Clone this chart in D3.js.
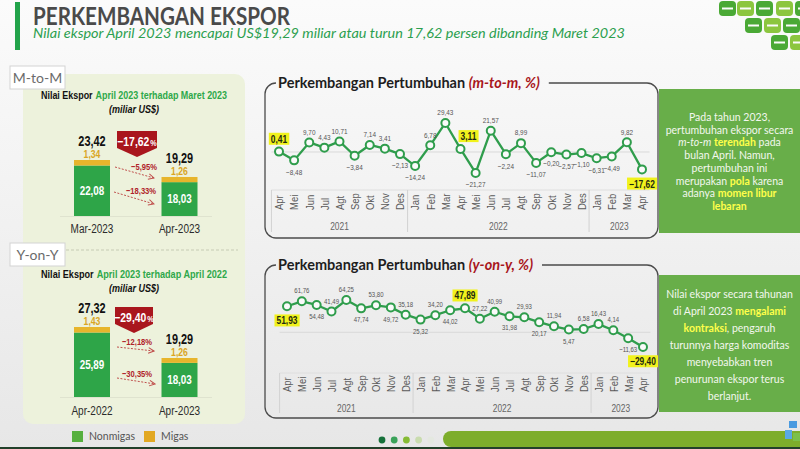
<!DOCTYPE html>
<html><head><meta charset="utf-8">
<script src="https://cdn.jsdelivr.net/npm/d3@7"></script>
<style>
html,body{margin:0;padding:0;width:800px;height:449px;overflow:hidden;background:#f0f0f0}
svg{display:block}
</style></head><body>
<svg id="c" width="800" height="449"></svg>
<script>
// ---------------- DATA ----------------
const months = ["Apr","Mei","Jun","Jul","Agt","Sep","Okt","Nov","Des","Jan","Feb","Mar","Apr","Mei","Jun","Jul","Agt","Sep","Okt","Nov","Des","Jan","Feb","Mar","Apr"];
const monthYears = ["2021","2021","2021","2021","2021","2021","2021","2021","2021","2022","2022","2022","2022","2022","2022","2022","2022","2022","2022","2022","2022","2023","2023","2023","2023"];
const years = ["2021","2022","2023"];
const mtmGrowth = [0.41,-8.48,9.70,4.43,10.71,-3.84,7.14,3.41,-2.13,-14.24,6.78,29.43,3.11,-21.27,21.57,-2.24,8.99,-11.07,-0.20,-2.57,-1.10,-6.31,-4.49,9.82,-17.62];
const yoyGrowth = [51.93,61.76,54.48,41.49,64.25,47.74,53.80,49.72,35.18,25.32,34.20,44.02,47.89,27.22,40.99,31.98,29.93,20.17,11.94,5.47,6.58,16.43,4.14,-11.63,-29.40];
const yoyLabelSide = ["below","above","below","above","above","below","above","below","above","below","above","below","above","above","above","below","above","below","above","below","above","above","above","below","below"];

const mtmPeriods = ["Mar-2023","Apr-2023"];
const mtmNonmigas = [22.08,18.03];
const mtmMigas = [1.34,1.26];
const mtmTotal = [23.42,19.29];
const mtmChanges = [-17.62,-5.95,-18.33]; // total, migas, nonmigas

const yoyPeriods = ["Apr-2022","Apr-2023"];
const yoyNonmigas = [25.89,18.03];
const yoyMigas = [1.43,1.26];
const yoyTotal = [27.32,19.29];
const yoyChanges = [-29.40,-12.18,-30.35];

const legendLabels = ["Nonmigas","Migas"];

// ---------------- STYLE ----------------
const SANS = '"Liberation Sans",Arial,sans-serif';
const LATO = 'Lato,"Open Sans",sans-serif';
const C_NON = "#2ea548", C_MIG = "#e7b52c", C_MIG_T = "#d9a524", C_RED = "#a9161d", C_LINE = "#2f9d4c";
const fmt = v => d3.format(".2f")(v).replace(".", ",");
function narrow(sel, f){
  sel.each(function(){
    const w = this.getComputedTextLength();
    d3.select(this).attr("textLength", w*f).attr("lengthAdjust","spacingAndGlyphs");
  });
  return sel;
}

const svg = d3.select("#c");
const defs = svg.append("defs");
const bg = defs.append("linearGradient").attr("id","bg").attr("x1",0).attr("y1",0).attr("x2",0).attr("y2",1);
bg.append("stop").attr("offset",0).attr("stop-color","#fbfbfb");
bg.append("stop").attr("offset",1).attr("stop-color","#e7e7e7");
svg.append("rect").attr("width",800).attr("height",449).attr("fill","url(#bg)");

// ---------------- HEADER ----------------
svg.append("rect").attr("x",15).attr("y",2).attr("width",5).attr("height",48).attr("fill","#22a34a");
svg.append("text").attr("x",33).attr("y",24.5).attr("font-family",LATO).attr("font-weight",700)
  .attr("font-size",24.5).attr("fill","#4a4a4a").attr("textLength",257).attr("lengthAdjust","spacingAndGlyphs")
  .text("PERKEMBANGAN EKSPOR");
svg.append("text").attr("x",33).attr("y",38).attr("font-family",LATO).attr("font-style","italic")
  .attr("font-size",13.5).attr("fill","#2c9f4f").attr("textLength",592).attr("lengthAdjust","spacingAndGlyphs")
  .text("Nilai ekspor April 2023 mencapai US$19,29 miliar atau turun 17,62 persen dibanding Maret 2023");

// logo top-right (decorative tiles)
const logo = svg.append("g");
[[719,1,"#4aa935"],[737,1,"#8cc63f"],[756,1,"#4aa935"],[776,1,"#8cc63f"],[795,1,"#4aa935"],
 [745,18,"#4aa935"],[764,18,"#8cc63f"],[783,18,"#4aa935"],
 [771,35,"#4aa935"],[790,35,"#8cc63f"]].forEach(([x,y,c])=>{
  logo.append("rect").attr("x",x).attr("y",y).attr("width",17).attr("height",15).attr("rx",4).attr("fill",c);
  logo.append("rect").attr("x",x+3).attr("y",y+6.5).attr("width",11).attr("height",2).attr("fill","#fbfbfb");
});

// ---------------- LEFT PANEL ----------------
svg.append("rect").attr("x",23).attr("y",74).attr("width",222).attr("height",350).attr("rx",10).attr("fill","#edf2dc");
svg.append("line").attr("x1",66).attr("x2",238).attr("y1",250).attr("y2",250)
  .attr("stroke","#c6cbb4").attr("stroke-dasharray","3,2");

function tag(y, label){
  svg.append("rect").attr("x",10).attr("y",y).attr("width",55).attr("height",23)
    .attr("fill","#fff").attr("stroke","#d3d3d3");
  svg.append("text").attr("x",37.5).attr("y",y+16.5).attr("text-anchor","middle")
    .attr("font-family",LATO).attr("font-size",14).attr("fill","#6b6b6b").text(label);
}
tag(66,"M-to-M");
tag(243,"Y-on-Y");

defs.append("marker").attr("id","chev").attr("viewBox","0 0 10 10").attr("refX",9).attr("refY",5)
  .attr("markerWidth",7).attr("markerHeight",7).attr("orient","auto").attr("markerUnits","userSpaceOnUse")
  .append("path").attr("d","M1,1 L9,5 L1,9").attr("fill","none").attr("stroke","#c0504d").attr("stroke-width",1.4);

function barPanel(o){
  const g = svg.append("g");
  // two-part title, squeezed to a total width of 186px centred on x=134
  const t1 = g.append("text").attr("y",o.titleY).attr("font-family",SANS).attr("font-weight",700)
    .attr("font-size",11.5).attr("fill","#111").text("Nilai Ekspor");
  const t2 = g.append("text").attr("y",o.titleY).attr("font-family",SANS).attr("font-weight",700)
    .attr("font-size",11.5).attr("fill","#2ea84a").text(o.title);
  const w1 = t1.node().getComputedTextLength(), w2 = t2.node().getComputedTextLength();
  const gap = 3, k = (186-gap)/(w1+w2);
  const xs = 134-93;
  t1.attr("x",xs).attr("textLength",w1*k).attr("lengthAdjust","spacingAndGlyphs");
  t2.attr("x",xs+w1*k+gap).attr("textLength",w2*k).attr("lengthAdjust","spacingAndGlyphs");
  g.append("text").attr("x",134).attr("y",o.titleY+14).attr("text-anchor","middle")
    .attr("font-family",SANS).attr("font-weight",700).attr("font-style","italic").attr("font-size",11)
    .attr("fill","#111").attr("textLength",50).attr("lengthAdjust","spacingAndGlyphs").text("(miliar US$)");

  const x = d3.scalePoint().domain(o.periods).range([92,179.5]);
  const y = d3.scaleLinear().domain(o.yDomain).range(o.yRange);
  const bw = 36, base = y(o.yDomain[0]);
  g.append("line").attr("x1",60).attr("x2",212).attr("y1",base+0.5).attr("y2",base+0.5).attr("stroke","#dfe3cf");
  o.periods.forEach((p,i)=>{
    const cx = x(p);
    g.append("rect").attr("x",cx-bw/2).attr("width",bw).attr("y",y(o.nonmigas[i])).attr("height",base-y(o.nonmigas[i])).attr("fill",C_NON);
    g.append("rect").attr("x",cx-bw/2).attr("width",bw).attr("y",y(o.total[i])).attr("height",y(o.nonmigas[i])-y(o.total[i])).attr("fill",C_MIG);
    narrow(g.append("text").attr("x",cx).attr("y",(y(o.nonmigas[i])+base)/2+4).attr("text-anchor","middle")
      .attr("font-family",SANS).attr("font-weight",700).attr("font-size",12).attr("fill","#fff").text(fmt(o.nonmigas[i])),0.82);
    narrow(g.append("text").attr("x",cx).attr("y",y(o.total[i])-2).attr("text-anchor","middle")
      .attr("font-family",SANS).attr("font-weight",700).attr("font-size",10.5).attr("fill",C_MIG_T).text(fmt(o.migas[i])),0.82);
    narrow(g.append("text").attr("x",cx).attr("y",y(o.total[i])-14).attr("text-anchor","middle")
      .attr("font-family",SANS).attr("font-weight",700).attr("font-size",14).attr("fill","#111").text(fmt(o.total[i])),0.78);
    narrow(g.append("text").attr("x",cx).attr("y",o.labelY).attr("text-anchor","middle")
      .attr("font-family",SANS).attr("font-size",12.5).attr("fill","#2b2b2b").text(p),0.8);
  });
  // badge
  const b = o.badge, cx = (b.x0+b.x1)/2;
  g.append("path").attr("d",`M${b.x0},${b.y0}H${b.x1}V${b.yb}L${cx},${b.tip}L${b.x0},${b.yb}Z`).attr("fill",C_RED);
  const bn = narrow(g.append("text").attr("y",b.yb-2).attr("text-anchor","end")
    .attr("font-family",SANS).attr("font-weight",700).attr("font-size",13).attr("fill","#fff").text(fmt(o.changes[0])),0.8);
  const bp = narrow(g.append("text").attr("y",b.yb-2).attr("text-anchor","start")
    .attr("font-family",SANS).attr("font-weight",700).attr("font-size",9).attr("fill","#fff").text("%"),0.8);
  const wn = +bn.attr("textLength"), wp = +bp.attr("textLength");
  const split = cx - (wn+wp+1)/2 + wn;
  bn.attr("x",split); bp.attr("x",split+1);
  // arrows
  o.arrows.forEach((a,k)=>{
    g.append("line").attr("x1",a.x0).attr("y1",a.y0).attr("x2",a.x1).attr("y2",a.y1)
      .attr("stroke","#c0504d").attr("stroke-width",1).attr("stroke-dasharray","2,1.5").attr("marker-end","url(#chev)");
    narrow(g.append("text").attr("x",a.lx).attr("y",a.ly).attr("text-anchor","middle")
      .attr("font-family",SANS).attr("font-weight",700).attr("font-size",9.5).attr("fill","#b0232a")
      .text(fmt(o.changes[k+1])+"%"),0.8);
  });
}

barPanel({title:"April 2023 terhadap Maret 2023", titleY:99, periods:mtmPeriods, nonmigas:mtmNonmigas, migas:mtmMigas,
  total:mtmTotal, changes:mtmChanges, yDomain:[9.8,23.42], yRange:[216,160], labelY:233,
  badge:{x0:117,x1:157,y0:131,yb:148,tip:157},
  arrows:[{x0:115,y0:167,x1:154,y1:178,lx:144,ly:170},{x0:114,y0:192,x1:154,y1:204,lx:141,ly:194}]});
barPanel({title:"April 2023 terhadap April 2022", titleY:278, periods:yoyPeriods, nonmigas:yoyNonmigas, migas:yoyMigas,
  total:yoyTotal, changes:yoyChanges, yDomain:[9.19,27.32], yRange:[397,327], labelY:415,
  badge:{x0:115,x1:153,y0:307,yb:324,tip:333},
  arrows:[{x0:117,y0:347,x1:154,y1:351,lx:137,ly:345},{x0:117,y0:378,x1:155,y1:384,lx:137,ly:377}]});

// legend
[[legendLabels[0],72,"#57b03f"],[legendLabels[1],144,"#e2a823"]].forEach(([l,x,c])=>{
  svg.append("rect").attr("x",x).attr("y",431).attr("width",11).attr("height",11).attr("fill",c);
  svg.append("text").attr("x",x+17).attr("y",440).attr("font-family",LATO).attr("font-size",10.5).attr("fill","#555").text(l);
});

// ---------------- LINE CHARTS ----------------
function lineChart(o){
  const g = svg.append("g");
  const n = o.values.length;
  const x = d3.scalePoint().domain(d3.range(n)).range(o.xr);
  const y = d3.scaleLinear().domain(o.yd).range(o.yr);
  const step = x.step();
  // title + frame
  const t = g.append("text").attr("x",o.px0+13).attr("y",o.py0+5).attr("font-family",LATO)
    .attr("font-weight",700).attr("font-size",14.5);
  t.append("tspan").attr("fill","#1e1e1e").text("Perkembangan Pertumbuhan ");
  t.append("tspan").attr("fill","#a8161c").attr("font-style","italic").text(o.unit);
  const tw = t.node().getComputedTextLength();
  const r = 11, {px0,py0,px1,py1} = o;
  g.append("path").attr("fill","none").attr("stroke","#4b4b4b").attr("stroke-width",1.3)
    .attr("d",`M${px0+13+tw+9},${py0}H${px1-r}A${r},${r} 0 0 1 ${px1},${py0+r}V${py1-r}A${r},${r} 0 0 1 ${px1-r},${py1}H${px0+r}A${r},${r} 0 0 1 ${px0},${py1-r}V${py0+r}A${r},${r} 0 0 1 ${px0+r},${py0}`);
  const xl = x(0)-step/2, xr = x(n-1)+step/2;
  g.append("line").attr("x1",xl).attr("x2",xr).attr("y1",y(0)).attr("y2",y(0)).attr("stroke","#d9d9d9");
  g.append("line").attr("x1",xl).attr("x2",xr).attr("y1",o.sepTop).attr("y2",o.sepTop).attr("stroke","#dedede");
  // month axis
  const ax = g.append("g").attr("transform",`translate(0,${o.monthY})`)
    .call(d3.axisBottom(x).tickSize(0).tickFormat(i=>months[i]));
  ax.select(".domain").remove();
  narrow(ax.selectAll("text").attr("transform","rotate(-90)").attr("x",0).attr("y",0).attr("dy","0.35em")
    .attr("text-anchor","start").attr("font-family",SANS).attr("font-size",11).attr("fill","#5a5a5a"),0.86);
  // year groups
  years.forEach(yr=>{
    const idx = d3.range(n).filter(i=>monthYears[i]===yr);
    const a = x(idx[0])-step/2, b = x(idx[idx.length-1])+step/2;
    g.append("line").attr("x1",a).attr("x2",a).attr("y1",o.sepTop).attr("y2",o.sepBottom).attr("stroke","#d2d2d2");
    narrow(g.append("text").attr("x",(a+b)/2).attr("y",o.yearY).attr("text-anchor","middle")
      .attr("font-family",SANS).attr("font-size",10.5).attr("fill","#666").text(yr),0.8);
  });
  // line + points
  g.append("path").datum(o.values).attr("fill","none").attr("stroke",C_LINE).attr("stroke-width",2.3)
    .attr("stroke-linejoin","round").attr("d",d3.line().x((d,i)=>x(i)).y(d=>y(d)));
  g.selectAll("circle.p").data(o.values).join("circle").attr("class","p")
    .attr("cx",(d,i)=>x(i)).attr("cy",d=>y(d)).attr("r",4).attr("fill","#fafafa")
    .attr("stroke",C_LINE).attr("stroke-width",2);
  // labels
  o.values.forEach((v,i)=>{
    const hl = months[i]==="Apr" && (i===0 || i===12 || i===n-1);
    const above = o.side(v,i)==="above";
    const px = x(i) + (hl && i===12 ? o.midShift : 0), py = y(v);
    const fs = hl ? 10.5 : o.fs;
    const cy = hl ? (above ? py-12.5 : py+14.5) : (above ? py-10.5 : py+11.5);
    const tx = g.append("text").attr("x",px).attr("y",cy+fs*0.35).attr("text-anchor","middle")
      .attr("font-family",SANS).attr("font-size",fs).attr("font-weight",hl?700:400)
      .attr("fill",hl?"#1f2a10":"#555").text(fmt(v));
    narrow(tx,0.8);
    if(hl){
      const bb = tx.node().getBBox();
      g.insert("rect", () => tx.node()).attr("x",bb.x-2).attr("y",bb.y).attr("width",bb.width+4)
        .attr("height",bb.height).attr("fill","#f1f21c");
    }
  });
}

lineChart({values:mtmGrowth, unit:"(m-to-m, %)", xr:[279,642], yd:[-30,30], yr:[181.6,122.4],
  px0:265, py0:83, px1:658, py1:238, monthY:210, sepTop:190, sepBottom:232, yearY:230, fs:8, midShift:8,
  side:(v)=> v>=0 ? "above" : "below"});
lineChart({values:yoyGrowth, unit:"(y-on-y, %)", xr:[287,643], yd:[-40,70], yr:[352.4,297.2],
  px0:265, py0:265, px1:658, py1:418, monthY:392, sepTop:373, sepBottom:413, yearY:412, fs:7.5, midShift:0,
  side:(v,i)=> yoyLabelSide[i]});

// ---------------- NOTE BOXES ----------------
function note(y0, h, lines, lineY, gap){
  svg.append("rect").attr("x",659).attr("y",y0).attr("width",141).attr("height",h).attr("fill","#68ae49");
  lines.forEach((segs,k)=>{
    const t = svg.append("text").attr("x",729.5).attr("y",lineY+k*gap).attr("text-anchor","middle")
      .attr("font-family",LATO).attr("font-size",10.5).attr("fill","#f3f7ee");
    segs.forEach(([s,st])=>{
      const ts = t.append("tspan").text(s);
      if(st==="h") ts.attr("fill","#ffff4a").attr("font-weight",700);
      if(st==="i") ts.attr("font-style","italic");
    });
  });
}
note(89,144,[
  [["Pada tahun 2023,"]],
  [["pertumbuhan ekspor secara"]],
  [["m-to-m","i"],[" "],["terendah","h"],[" pada"]],
  [["bulan April. Namun,"]],
  [["pertumbuhan ini"]],
  [["merupakan "],["pola","h"],[" karena"]],
  [["adanya "],["momen libur","h"]],
  [["lebaran","h"]]
],121,12.7);
note(275,137,[
  [["Nilai ekspor secara tahunan"]],
  [["di April 2023 "],["mengalami","h"]],
  [["kontraksi","h"],[", pengaruh"]],
  [["turunnya harga komoditas"]],
  [["menyebabkan tren"]],
  [["penurunan ekspor terus"]],
  [["berlanjut."]]
],298,17);

// ---------------- FOOTER ----------------
svg.append("rect").attr("x",443).attr("y",431).attr("width",380).attr("height",16).attr("rx",8).attr("fill","#7dad2b");
["#16713a","#3ba35a","#86bb34","#c9dcae","#e4e8e0"].forEach((c,i)=>{
  svg.append("circle").attr("cx",382+i*12.2).attr("cy",440).attr("r",3.4).attr("fill",c);
});
svg.append("rect").attr("x",0).attr("y",447).attr("width",800).attr("height",2).attr("fill","#22402a");
svg.append("rect").attr("x",789).attr("y",421).attr("width",8).attr("height",7).attr("fill","#4a9be0");
svg.append("rect").attr("x",785).attr("y",430).attr("width",7).attr("height",9).attr("fill","#5aa9e6");
svg.append("rect").attr("x",793).attr("y",433).attr("width",7).attr("height",8).attr("fill","#7cc04a");
</script>
</body></html>
